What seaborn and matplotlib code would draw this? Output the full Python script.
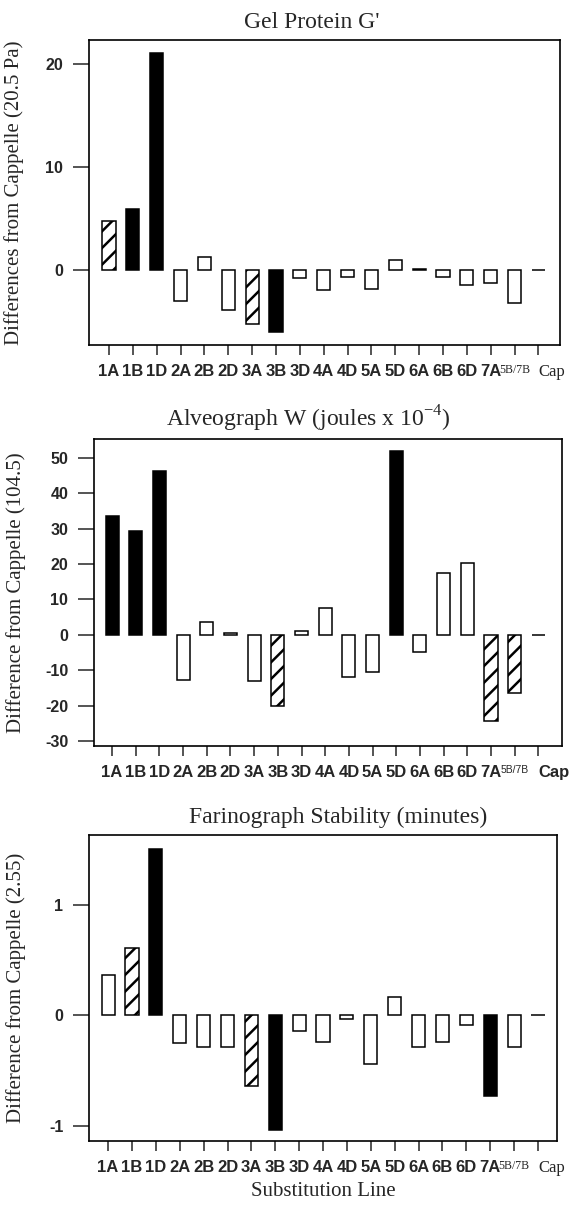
import numpy as np
import matplotlib
matplotlib.use("Agg")
import matplotlib.pyplot as plt
import seaborn as sns

# substitution lines (x categories)
lines = ["1A", "1B", "1D", "2A", "2B", "2D", "3A", "3B", "3D", "4A",
         "4D", "5A", "5D", "6A", "6B", "6D", "7A", "5B/7B", "Cap"]

# differences from Cappelle
gel_values = [4.7, 5.9, 21.0, -3.0, 1.2, -3.9, -5.3, -6.0, -0.8, -1.95,
              -0.7, -1.85, 0.95, 0.1, -0.7, -1.45, -1.3, -3.2, 0.0]
gel_styles = ["h", "b", "b", "o", "o", "o", "h", "b", "o", "o",
              "o", "o", "o", "o", "o", "o", "o", "o", "o"]

alveo_values = [33.6, 29.4, 46.2, -12.7, 3.7, 0.5, -13.1, -20.2, 1.2, 7.7,
                -12.0, -10.6, 51.8, -4.9, 17.5, 20.4, -24.4, -16.4, 0.0]
alveo_styles = ["b", "b", "b", "o", "o", "o", "o", "h", "o", "o",
                "o", "o", "b", "o", "o", "o", "h", "h", "o"]

farino_values = [0.36, 0.61, 1.50, -0.25, -0.29, -0.29, -0.64, -1.04, -0.14, -0.24,
                 -0.04, -0.44, 0.165, -0.29, -0.24, -0.09, -0.73, -0.29, 0.0]
farino_styles = ["o", "h", "b", "o", "o", "o", "h", "b", "o", "o",
                 "o", "o", "o", "o", "o", "o", "b", "o", "o"]

sns.set_style("ticks")
plt.rcParams["font.family"] = ["Liberation Serif", "DejaVu Serif"]
plt.rcParams["mathtext.fontset"] = "custom"
plt.rcParams["mathtext.rm"] = "Liberation Serif"
plt.rcParams["hatch.linewidth"] = 1.8

fig = plt.figure(figsize=(5.75, 12.06), dpi=100)

panels = [
    dict(vals=gel_values, styles=gel_styles, title="Gel Protein G'", tx=0.473,
         ylabel="Differences from Cappelle (20.5 Pa)", ylab_x=-0.138,
         rect=[0.1548, 0.7139, 0.819, 0.2529], ylim=(-7.3, 22.3), xlim=(-0.84, 18.9),
         yticks=[0, 10, 20], small_serif=True),
    dict(vals=alveo_values, styles=alveo_styles,
         title=r"Alveograph W (joules x 10$^{\mathrm{-4}}$)", tx=0.457,
         ylabel="Difference from Cappelle (104.5)", ylab_x=-0.145,
         rect=[0.1635, 0.3814, 0.814, 0.2546], ylim=(-31.4, 55.3), xlim=(-0.76, 19.0),
         yticks=list(range(-30, 51, 10)), small_serif=False),
    dict(vals=farino_values, styles=farino_styles, title="Farinograph Stability (minutes)",
         tx=0.532, ylabel="Difference from Cappelle (2.55)", ylab_x=-0.135,
         rect=[0.1548, 0.0539, 0.814, 0.2537], ylim=(-1.14, 1.63), xlim=(-0.8, 18.8),
         yticks=[-1, 0, 1], small_serif=True),
]

for i, p in enumerate(panels):
    ax = fig.add_axes(p["rect"])
    sns.barplot(x=lines, y=p["vals"], order=lines, color="white", edgecolor="black",
                linewidth=1.1, width=0.55, ax=ax)
    for bar, st in zip(ax.patches, p["styles"]):
        if st == "b":
            bar.set_facecolor("black")
        elif st == "h":
            bar.set_facecolor("white")
            bar.set_hatch("//")
        else:
            bar.set_facecolor("white")

    ax.set_xlim(p["xlim"])
    ax.set_ylim(p["ylim"])
    ax.set_yticks(p["yticks"])
    ax.set_yticklabels([str(t) for t in p["yticks"]], family="Liberation Sans",
                       fontweight="bold", fontsize=11.5)
    ax.tick_params(axis="y", length=11.5, width=1.1, pad=7, direction="out")
    ax.tick_params(axis="x", length=7, width=1.1, pad=7, direction="out")
    for s in ax.spines.values():
        s.set_visible(True)
        s.set_linewidth(1.2)
        s.set_color("black")

    ax.set_xticks(range(len(lines)))
    ax.set_xticklabels(lines, family="Liberation Sans", fontweight="bold", fontsize=12)
    tl = ax.get_xticklabels()
    tl[-2].set_fontweight("normal")
    tl[-1].set_horizontalalignment("left")
    tl[-1].set_fontsize(12)
    if p["small_serif"]:
        tl[-2].set_fontsize(8.5)
        tl[-2].set_fontfamily("Liberation Serif")
        tl[-1].set_fontfamily("Liberation Serif")
        tl[-1].set_fontweight("normal")
    else:
        tl[-2].set_fontsize(7.5)

    ax.set_title(p["title"], fontsize=17, x=p["tx"], pad=9)
    ax.set_ylabel(p["ylabel"], fontsize=15)
    ax.yaxis.set_label_coords(p["ylab_x"], 0.5)
    if i == 2:
        ax.set_xlabel("Substitution Line", fontsize=15, labelpad=4)
    else:
        ax.set_xlabel("")

fig.savefig("out.png", dpi=100)
